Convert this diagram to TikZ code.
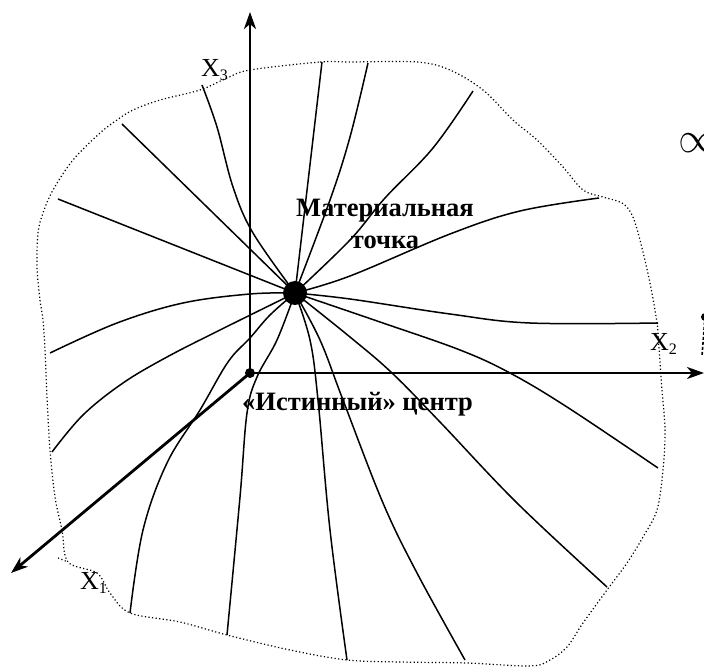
\documentclass[tikz,border=0pt]{standalone}
\usepackage{fontspec}
\setmainfont{Liberation Serif}
\usetikzlibrary{arrows.meta}
\begin{document}
\begin{tikzpicture}[x=1pt,y=-1pt,
  axis/.style={line width=2.8pt,-{Stealth[length=17pt,width=12pt,inset=5pt]}},
  ray/.style={line width=1.5pt},
  rim/.style={line width=1.2pt,dash pattern=on 1.2pt off 2.4pt},
  lab/.style={font=\fontsize{26.5}{30}\selectfont\bfseries,inner sep=0pt,anchor=base},
  xl/.style={font=\fontsize{26}{26}\selectfont,inner sep=0pt,anchor=base west}]
\useasboundingbox (0,0) rectangle (704,668);
\newcommand{\sbs}[1]{\raisebox{-4pt}{\fontsize{16}{16}\selectfont #1}}
% boundary
\draw[rim] plot[smooth cycle,tension=0.55] coordinates {
 (250,70) (320,62) (350,62) (417,62) (450,70) (483,90) (513,120) (537,140)
 (563,167) (583,190) (603,197) (622,203) (632,215) (640,240) (650,283)
 (657,323) (659,347) (662,390) (665,430) (663,470) (657,510) (643,537)
 (627,563) (607,590) (583,623) (567,647) (550,660) (530,666) (467,663)
 (400,662) (347,660) (290,650) (227,635) (180,622) (130,613) (110,593)
 (97,573) (68,562) (62,530) (55,497) (50,450) (47,397) (45,350) (43,320)
 (40,300) (37,267) (38,233) (43,213) (53,190) (73,160) (100,133) (117,120)
 (133,110) (160,100) (200,90) (227,78)};
\draw[rim] (58,558) -- (68,562);
% material point
\coordinate (P) at (295,293);
\begin{scope}[ray]
\draw plot[smooth,tension=0.6] coordinates {(P) (253,233) (233,187) (217,127) (202,85)};
\draw (P) -- (122,124);
\draw (P) -- (58,199);
\draw (P) -- (322,62);
\draw plot[smooth,tension=0.6] coordinates {(P) (330,200) (350,137) (368,63)};
\draw plot[smooth,tension=0.6] coordinates {(P) (350,240) (385,198) (433,148) (473,91)};
\draw plot[smooth,tension=0.6] coordinates {(P) (350,276) (450,234) (520,211) (599,198)};
\draw plot[smooth,tension=0.6] coordinates {(P) (350,299) (450,314) (530,323) (658,323)};
\draw plot[smooth,tension=0.6] coordinates {(P) (380,322) (460,350) (510,373) (567,407) (658,468)};
\draw plot[smooth,tension=0.6] coordinates {(P) (350,337) (392,373) (440,422) (517,503) (607,587)};
\draw plot[smooth,tension=0.6] coordinates {(P) (320,340) (343,400) (383,503) (417,573) (465,660)};
\draw plot[smooth,tension=0.6] coordinates {(P) (310,340) (318,400) (330,530) (347,660)};
\draw plot[smooth,tension=0.6] coordinates {(P) (277,340) (257,377) (247,413) (240,497) (227,635)};
\draw plot[smooth,tension=0.6] coordinates {(P) (270,315) (250,338) (228,362) (200,410) (167,463) (143,530) (130,613)};
\draw plot[smooth,tension=0.6] coordinates {(P) (220,330) (167,357) (123,383) (83,415) (52,452)};
\draw plot[smooth,tension=0.6] coordinates {(P) (250,294) (183,303) (117,323) (50,353)};
\end{scope}
\node[circle,fill,inner sep=0pt,minimum size=24pt] (Pdot) at (P) {};
% axes
\node[circle,fill,inner sep=0pt,minimum size=10pt] (O) at (250,373) {};
\coordinate (T3) at (250,12);
\coordinate (T2) at (704,373);
\coordinate (T1) at (11,573);
\draw[axis] (O.center) -- (T3);
\draw[axis] (O.center) -- (T2);
\draw[axis] (O.center) -- (T1);
% labels
\node[xl] (x3) at (201,77) {X\sbs{3}};
\node[xl] (x2) at (650,350) {X\sbs{2}};
\node[xl] (x1) at (80,589) {X\sbs{1}};
\node[lab] (m1) at (385,217) {Материальная};
\node[lab] (m2) at (385,249) {точка};
\node[lab,anchor=base west] (ic) at (242,410) {«Истинный» центр};
\node[inner sep=0pt,anchor=base west] (prop) at (678,153) {\fontsize{24.88}{25}\selectfont\scalebox{1.75}{$\propto$}};
% right edge fragment
\node[circle,fill,inner sep=0pt,minimum size=8pt] (edot) at (705,317) {};
\draw[line width=1.6pt,dash pattern=on 3pt off 2pt] (edot.center) -- (702,356);
\end{tikzpicture}
\end{document}
